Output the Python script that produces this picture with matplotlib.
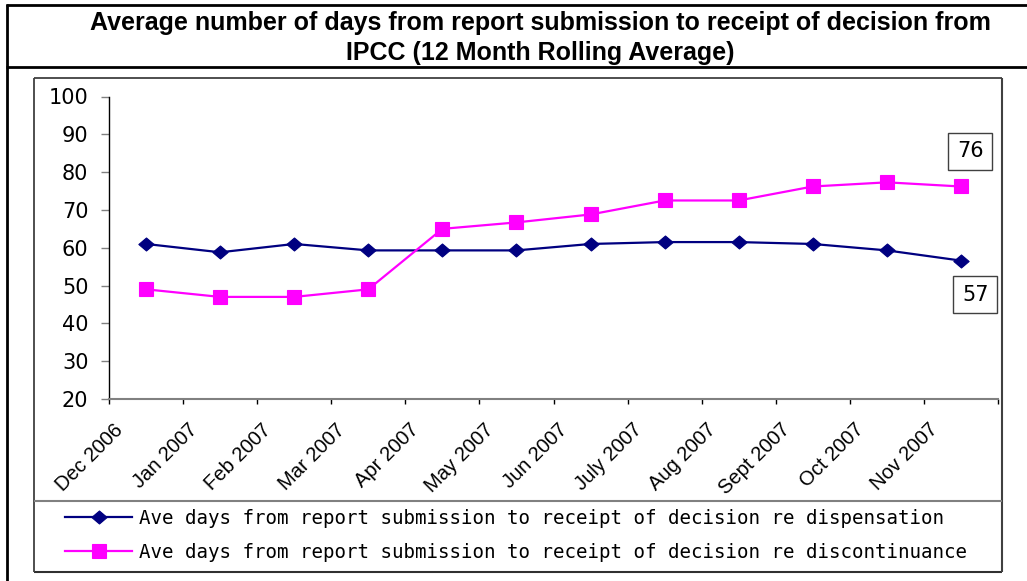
import matplotlib
matplotlib.use("Agg")
import matplotlib.pyplot as plt
import matplotlib.transforms as mtransforms
from matplotlib.lines import Line2D
from matplotlib.path import Path
import numpy as np

# ---------------- data ----------------
months = ["Dec 2006", "Jan 2007", "Feb 2007", "Mar 2007", "Apr 2007", "May 2007",
          "Jun 2007", "July 2007", "Aug 2007", "Sept 2007", "Oct 2007", "Nov 2007"]
dispensation = [61, 58.8, 61, 59.3, 59.3, 59.3, 61, 61.5, 61.5, 61, 59.3, 56.6]
discontinuance = [49, 47, 47, 49, 65, 66.7, 68.8, 72.5, 72.5, 76.2, 77.3, 76.2]
label_disp = "Ave days from report submission to receipt of decision re dispensation"
label_disc = "Ave days from report submission to receipt of decision re discontinuance"
title_lines = ["Average number of days from report submission to receipt of decision from",
               "IPCC (12 Month Rolling Average)"]
y_ticks = [20, 30, 40, 50, 60, 70, 80, 90, 100]

# ---------------- figure ----------------
W, H = 1027, 581
fig = plt.figure(figsize=(W / 100, H / 100), dpi=100)
fig.patch.set_facecolor("white")


def fx(px):
    return px / W


def fy(py):
    return 1 - py / H


def hline(x0, x1, y, color, lw):
    fig.add_artist(Line2D([fx(x0), fx(x1)], [fy(y), fy(y)], transform=fig.transFigure,
                          color=color, lw=lw, solid_capstyle="butt"))


def vline(x, y0, y1, color, lw):
    fig.add_artist(Line2D([fx(x), fx(x)], [fy(y0), fy(y1)], transform=fig.transFigure,
                          color=color, lw=lw, solid_capstyle="butt"))


# outer frame and title box
hline(6, 1030, 5, "black", 2)
vline(7, 4, 585, "black", 2)
hline(6, 1030, 67, "black", 2)
# inner chart frame
hline(34, 1002, 78, "#404040", 1.3)
hline(34, 1002, 572, "#303030", 1.5)
vline(34, 78, 572, "#404040", 1.3)
vline(1002, 78, 572, "#404040", 1.5)
# legend separator
hline(34, 1002, 501, "#808080", 1.5)

# title
fig.text(fx(540), fy(30), title_lines[0], ha="center", va="baseline",
         fontsize=18, fontweight="bold", family="Liberation Sans")
fig.text(fx(540), fy(60), title_lines[1], ha="center", va="baseline",
         fontsize=18, fontweight="bold", family="Liberation Sans")

# ---------------- axes ----------------
ax = fig.add_axes([fx(109), fy(399), (998 - 109) / W, (399 - 96.5) / H])
x = np.arange(len(months))

diamond = Path([(-1, 0), (0, 0.85), (1, 0), (0, -0.85), (-1, 0)],
               [Path.MOVETO, Path.LINETO, Path.LINETO, Path.LINETO, Path.CLOSEPOLY])
l1, = ax.plot(x, dispensation, color="#000080", lw=1.6, marker=diamond, ms=11,
              mfc="#000080", mec="#000080", mew=0.8, label=label_disp)
l2, = ax.plot(x, discontinuance, color="#FF00FF", lw=1.6, marker="s", ms=10.3,
              mfc="#FF00FF", mec="#FF00FF", mew=0.8, label=label_disc)

ax.set_xlim(-0.5, len(months) - 0.5)
ax.set_ylim(20, 100)
for s in ("top", "right"):
    ax.spines[s].set_visible(False)
ax.spines["left"].set_color("black")
ax.spines["left"].set_linewidth(1)
ax.spines["bottom"].set_color("#808080")
ax.spines["bottom"].set_linewidth(1.5)

ax.set_yticks(y_ticks)
ax.set_yticklabels([str(v) for v in y_ticks], family="DejaVu Sans", fontsize=15)
ax.tick_params(axis="y", direction="out", length=5.8, width=1, color="#808080", pad=9)

ax.set_xticks(np.arange(-0.5, len(months), 1.0))
ax.set_xticklabels([])
ax.tick_params(axis="x", which="major", direction="out", length=3.6, width=1, color="black")
ax.set_xticks(x, minor=True)
ax.set_xticklabels(months, minor=True, rotation=45, ha="right", va="center",
                   rotation_mode="anchor", family="Liberation Sans", fontsize=14.5)
ax.tick_params(axis="x", which="minor", length=0, pad=20)
shift = mtransforms.ScaledTranslation(-26 / 100, 0, fig.dpi_scale_trans)
for lab in ax.get_xticklabels(minor=True):
    lab.set_transform(lab.get_transform() + shift)

# end-point data labels
box = dict(boxstyle="square,pad=0.42", fc="white", ec="#404040", lw=1)
ax.annotate(f"{round(discontinuance[-1])}", xy=(x[-1], discontinuance[-1]),
            xytext=(6.8, 25.2), textcoords="offset points", ha="center", va="center",
            fontsize=15, family="DejaVu Sans", bbox=box)
ax.annotate(f"{round(dispensation[-1])}", xy=(x[-1], dispensation[-1]),
            xytext=(10.4, -24.5), textcoords="offset points", ha="center", va="center",
            fontsize=15, family="DejaVu Sans", bbox=box)

# legend
fig.legend(handles=[l1, l2], loc="upper left", bbox_to_anchor=(fx(65), fy(509)),
           frameon=False, prop={"family": "DejaVu Sans Mono", "size": 13.8},
           handlelength=3.5, handletextpad=0.37, labelspacing=0.78,
           borderpad=0, borderaxespad=0)

fig.savefig("out.png", dpi=100)
